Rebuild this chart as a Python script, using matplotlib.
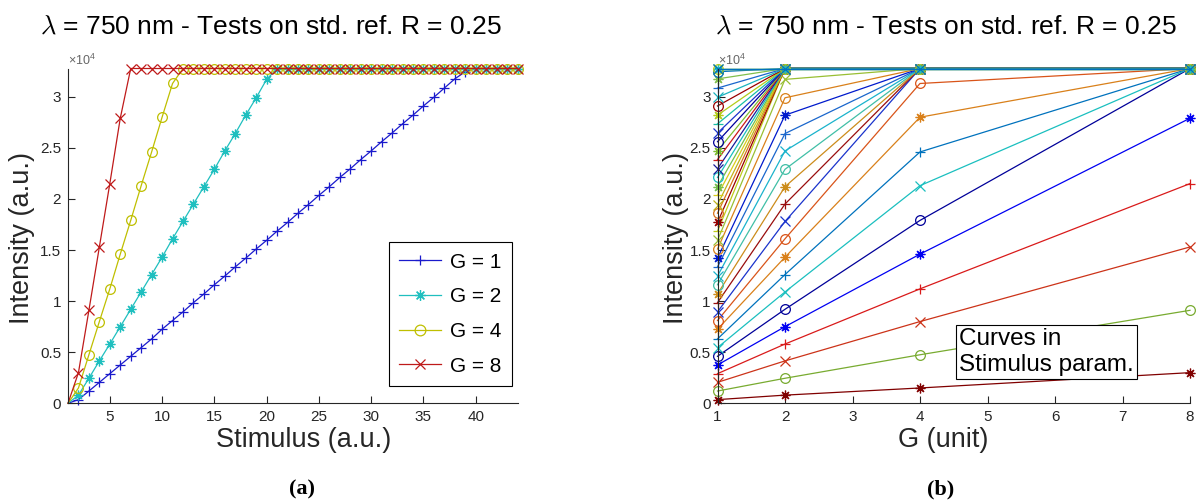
import matplotlib
matplotlib.use('Agg')
import matplotlib.pyplot as plt
from matplotlib.ticker import FuncFormatter, FixedLocator

# ---------------- data ----------------
stimulus = list(range(1, 45))
gains = [1, 2, 4, 8]
SAT = 32767

int_g1 = [0, 360, 1200, 2050, 2900, 3750, 4600, 5450, 6300, 7250, 8100, 8950,
          9850, 10700, 11600, 12450, 13350, 14200, 15100, 15950, 16850, 17700,
          18600, 19450, 20350, 21200, 22100, 22950, 23850, 24700, 25600, 26450,
          27350, 28200, 29100, 29950, 30850, 31750, 32450,
          32767, 32767, 32767, 32767, 32767]
int_g2 = [0, 800, 2450, 4150, 5800, 7500, 9200, 10900, 12600, 14300, 16100,
          17800, 19500, 21200, 22900, 24700, 26400, 28200, 29900, 31700] + [32767] * 24
int_g4 = [0, 1500, 4750, 8000, 11200, 14600, 17900, 21300, 24600, 28000,
          31300] + [32767] * 33
int_g8 = [0, 3000, 9100, 15300, 21500, 27900] + [32767] * 38

series = [int_g1, int_g2, int_g4, int_g8]
legend_labels = ['G = 1', 'G = 2', 'G = 4', 'G = 8']

yticks = [0, 5000, 10000, 15000, 20000, 25000, 30000]
xticks_left = [5, 10, 15, 20, 25, 30, 35, 40]
xticks_right = [1, 2, 3, 4, 5, 6, 7, 8]

# ---------------- styles ----------------
ASTER = (8, 2, 0)   # MATLAB-like asterisk (+ and x combined)
left_colors = ['#1a1acc', '#1fbfbf', '#bfbf00', '#bf1a1a']
left_markers = ['+', ASTER, 'o', 'x']

# colours of the curves for stimulus 2..44 in panel (b)
right_colors = [
    '#800000', '#78ab30', '#cc3319', '#d91a1a', '#0000f2', '#000099', '#1abfbf',
    '#0072bd', '#d9801a', '#d95419', '#1a33cc', '#990d0d', '#cc8c1a', '#40bfa6',
    '#1ab3cc', '#1a66cc', '#001acc', '#d9801a', '#99bf33', '#bfcc1a', '#990000',
    '#d9731a', '#bfb31a', '#d9cc1a', '#73bf4d', '#1abfbf', '#1a1a99', '#cc1a1a',
    '#80bf33', '#000099', '#1a33cc', '#1abfa6', '#b3cc1a', '#990000', '#1ab3bf',
    '#1a66cc', '#80bf4d', '#0072bd', '#80bf4d', '#1a66cc', '#1abfbf', '#b3cc1a',
    '#0072bd']
marker_cycle = {2: ASTER, 3: 'o', 0: 'x', 1: '+'}

gray = (0.15, 0.15, 0.15)
W, H = 1196, 501

plt.rcParams['font.family'] = ['Liberation Sans', 'DejaVu Sans']
plt.rcParams['mathtext.fontset'] = 'cm'

fig = plt.figure(figsize=(W / 100, H / 100), dpi=100)


def fx(px):
    return px / W


def fy(py):
    return 1 - py / H


ax_top, ax_bot = 68.5, 403.3
axL = fig.add_axes([fx(68), fy(ax_bot), (517.5 - 68) / W, (ax_bot - ax_top) / H])
axR = fig.add_axes([fx(717.5), fy(ax_bot), (1190 - 717.5) / W, (ax_bot - ax_top) / H])

fmt = FuncFormatter(lambda v, p: f'{v / 1e4:g}')
for ax in (axL, axR):
    ax.spines[['top', 'right']].set_visible(False)
    for s in ('left', 'bottom'):
        ax.spines[s].set_color(gray)
        ax.spines[s].set_linewidth(0.8)
    ax.tick_params(direction='in', length=5, width=0.8, colors=gray,
                   labelsize=11, pad=5)
    ax.set_ylim(0, SAT)
    ax.yaxis.set_major_locator(FixedLocator(yticks))
    ax.yaxis.set_major_formatter(fmt)

# ---------------- panel (a) ----------------
for vals, c, m, lab in zip(series, left_colors, left_markers, legend_labels):
    axL.plot(stimulus, vals, color=c, marker=m, markersize=7, lw=0.9,
             markeredgewidth=0.9, markerfacecolor='none', label=lab,
             clip_on=False, markevery=list(range(1, len(stimulus))))
axL.set_xlim(1, 44)
axL.xaxis.set_major_locator(FixedLocator(xticks_left))

leg = axL.legend(loc='lower right', bbox_to_anchor=(fx(512), fy(386)),
                 bbox_transform=fig.transFigure, borderaxespad=0, fontsize=15,
                 frameon=True, fancybox=False, edgecolor='black', framealpha=1,
                 handlelength=2.0, labelspacing=0.75, borderpad=0.5,
                 handletextpad=0.45, markerscale=1.1)
leg.get_frame().set_linewidth(0.8)

# ---------------- panel (b) ----------------
for k, s in enumerate(stimulus[1:]):
    idx = s - 1
    yv = [series[g][idx] for g in range(len(gains))]
    axR.plot(gains, yv, color=right_colors[k], marker=marker_cycle[s % 4],
             markersize=7, lw=0.9, markeredgewidth=0.9,
             markerfacecolor='none', clip_on=False)
axR.set_xlim(1, 8)
axR.xaxis.set_major_locator(FixedLocator(xticks_right))

fig.text(fx(959), fy(352), 'Curves in\nStimulus param.', fontsize=17.5,
         ha='left', va='center', linespacing=1.2,
         bbox=dict(boxstyle='square,pad=0.14', fc='white', ec='black', lw=0.8))

# ---------------- texts ----------------
title = r'$\lambda$ = 750 nm - Tests on std. ref. R = 0.25'
for tx, cx, ylab_x, xlab, sub in ((271, 304, 22, 'Stimulus (a.u.)', '(a)'),
                                  (946, 943, 676, 'G (unit)', '(b)')):
    fig.text(fx(tx), fy(27), title, fontsize=19, ha='center', va='center')
    fig.text(fx(cx), fy(440), xlab, fontsize=19.5, ha='center', va='center',
             color=gray)
    fig.text(fx(ylab_x), fy(238), 'Intensity (a.u.)', fontsize=19.5,
             ha='center', va='center', rotation=90, color=gray)
    fig.text(fx(cx - 2), fy(489), sub, fontsize=16, ha='center', va='center',
             family='Liberation Serif', weight='bold')

for x0 in (68, 717.5):
    fig.text(fx(x0), fy(60), r'$\mathregular{\times10^{4}}$', fontsize=9,
             ha='left', va='center', color=(0.4, 0.4, 0.4))

fig.savefig('out.png', dpi=100)
